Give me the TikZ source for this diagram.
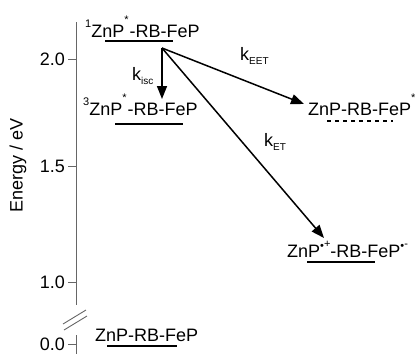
\documentclass[tikz,border=0pt]{standalone}
\usepackage{fontspec}
\setmainfont{Liberation Sans}
\usetikzlibrary{arrows.meta}
\tikzset{
  lvl/.style={anchor=base west, inner sep=0pt, font=\fontsize{18}{20}\selectfont},
  klabel/.style={anchor=base west, inner sep=0pt, font=\fontsize{18}{20}\selectfont},
  ticklabel/.style={anchor=east, inner sep=0pt, font=\fontsize{18}{20}\selectfont},
  axisline/.style={draw=black!60, line width=0.9pt},
  levelline/.style={draw=black, line width=1.5pt},
  rate/.style={draw=black, line width=1.5pt, -{Triangle[length=13pt,width=10pt]}},
}
\newcommand{\mysub}[1]{\raisebox{-0.25em}{\fontsize{10}{10}\selectfont #1}}
\newcommand{\mysup}[1]{\raisebox{0.55em}{\fontsize{11}{11}\selectfont #1}}
\newcommand{\mystar}{\raisebox{0.75em}{\fontsize{11}{11}\selectfont *}\kern1pt}
\begin{document}
\begin{tikzpicture}[x=1pt,y=-1pt]
\useasboundingbox (0,0) rectangle (420,354);
% axis
\coordinate (atop) at (76,22);
\coordinate (abot) at (76,305);
\coordinate (btop) at (76,335);
\coordinate (bbot) at (76,354);
\draw[axisline] (atop) -- (abot);
\draw[axisline] (btop) -- (bbot);
\draw[axisline] (63,324) -- (86,310);
\draw[axisline] (64,330) -- (87,316);
% ticks
\foreach \v/\y/\n in {2.0/59/t2, 1.5/166/t15, 1.0/282/t1, 0.0/344/t0} {
  \draw[axisline] (68,\y) -- (76,\y);
  \node[ticklabel] (\n) at (65,\y) {\v};
}
\node[rotate=90, inner sep=0pt, font=\fontsize{18}{20}\selectfont] (ylab) at (18,165) {Energy / eV};
% levels
\node[lvl] (s1) at (85,37) {\mysup{1}ZnP\mystar-RB-FeP};
\draw[levelline] (105,41) -- (173,41);
\node[lvl] (tr1) at (83,115) {\mysup{3}ZnP\mystar-RB-FeP};
\draw[levelline] (115,124) -- (183,124);
\node[lvl] (e1) at (308,115) {ZnP-RB-FeP\mystar};
\draw[draw=black, line width=1.2pt, dash pattern=on 4pt off 4pt] (327,121) -- (393,121);
\node[lvl] (c1) at (287,257) {ZnP\mysup{\raisebox{-0.25em}{•}+}-RB-FeP\mysup{\raisebox{-0.25em}{•}-}};
\draw[levelline] (307,262) -- (375,262);
\node[lvl] (g0) at (95,341) {ZnP-RB-FeP};
\draw[levelline] (107,346) -- (177,346);
% arrows
\coordinate (src) at (162,48);
\coordinate (isc) at (162,99);
\coordinate (eet) at (304,104);
\coordinate (et) at (324,238);
\draw[rate] (src) -- (isc);
\draw[rate] (src) -- (eet);
\draw[rate] (src) -- (et);
\node[klabel] (kisc) at (132,80) {k\mysub{isc}};
\node[klabel] (keet) at (240,60) {k\mysub{EET}};
\node[klabel] (ket) at (264,146) {k\mysub{ET}};
\end{tikzpicture}
\end{document}
